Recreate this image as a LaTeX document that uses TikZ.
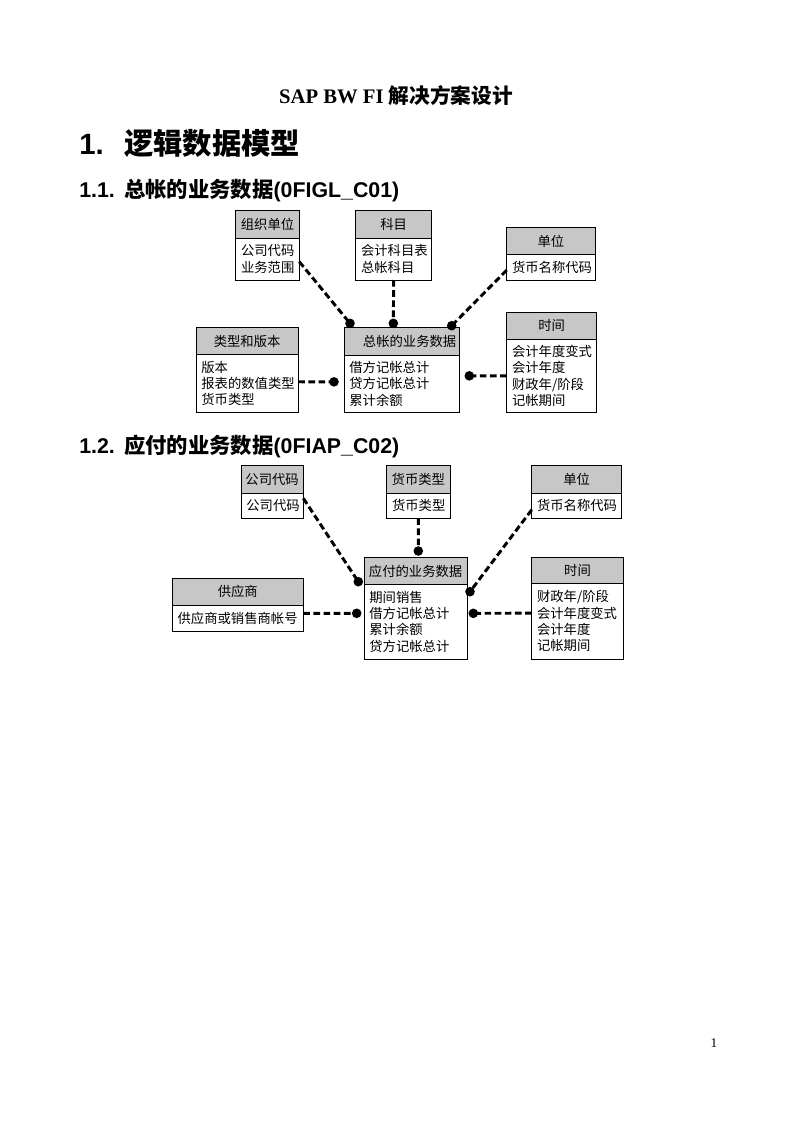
\documentclass[tikz,border=0pt]{standalone}
\usepackage{fontspec}
\setmainfont{Liberation Serif}
\newfontfamily\cjk{Noto Sans CJK SC}
\newfontfamily\hsans{Liberation Sans}
\usetikzlibrary{calc}
\definecolor{hdrgray}{gray}{0.78}
\tikzset{
  hdr/.style={draw, line width=0.7pt, fill=hdrgray, outer sep=0pt, inner sep=0pt,
    font=\cjk\fontsize{10}{12.2}\selectfont, align=center},
  bdy/.style={draw, line width=0.7pt, fill=white, outer sep=0pt, inner xsep=4pt, inner ysep=0pt,
    font=\cjk\fontsize{10}{12.2}\selectfont, align=left},
  conn/.style={line width=2.2pt, dash pattern=on 5pt off 2.6pt},
  dot/.style={fill=black},
}
% \erbox{name}{x}{y}{width}{header height}{body height}{title}{body}
\newcommand{\erbox}[8]{%
  \pgfmathsetmacro\erw{#4*0.75}%
  \pgfmathsetmacro\erhh{#5*0.75}%
  \pgfmathsetmacro\erhb{#6*0.75}%
  \pgfmathsetmacro\ertw{#4*0.75-8}%
  \node[hdr, minimum width=\erw pt, minimum height=\erhh pt, anchor=north west] (#1h) at (#2,#3) {#7};
  \node[bdy, minimum width=\erw pt, minimum height=\erhb pt, text width=\ertw pt, anchor=north west] (#1) at (#1h.south west) {#8};
}
\begin{document}
\begin{tikzpicture}[x=0.75pt,y=-0.75pt]
\useasboundingbox (0,0) rectangle (793,1122);

% title and headings
\node[inner sep=0pt] (title) at (396,96) {\fontsize{15.5}{18}\selectfont\bfseries SAP BW FI {\cjk 解决方案设计}};
\node[inner sep=0pt, anchor=west] (h1) at (79,143) {\fontsize{22}{26}\selectfont\bfseries\makebox[33.75pt][l]{\hsans 1.}{\cjk 逻辑数据模型}};
\node[inner sep=0pt, anchor=west] (h11) at (79,191) {\fontsize{16}{19}\selectfont\bfseries\makebox[33.75pt][l]{\hsans 1.1.}{\cjk 总帐的业务数据}{\hsans (0FIGL\_C01)}};
\node[inner sep=0pt, anchor=west] (h12) at (79,446) {\fontsize{16}{19}\selectfont\bfseries\makebox[33.75pt][l]{\hsans 1.2.}{\cjk 应付的业务数据}{\hsans (0FIAP\_C02)}};
\node[inner sep=0pt] (pg) at (714,1043) {\fontsize{10}{12}\selectfont 1};

% ---------- diagram 1 ----------
\erbox{org}{235.7}{210}{63.6}{28}{42}{组织单位}{公司代码\\业务范围}
\erbox{km}{355.7}{210}{76}{28}{42}{科目}{会计科目表\\总帐科目}
\erbox{dw}{506.7}{227.7}{88.3}{26.6}{25.7}{单位}{货币名称代码}
\erbox{lx}{196}{327.7}{102.3}{26.6}{58.4}{类型和版本}{版本\\报表的数值类型\\货币类型}
\erbox{gl}{344}{327.7}{115.3}{27.3}{57.7}{\hspace*{12pt}总帐的业务数据}{借方记帐总计\\贷方记帐总计\\累计余额}
\erbox{sj}{506.7}{312.3}{90}{26.7}{73.7}{时间}{会计年度变式\\会计年度\\财政年/阶段\\记帐期间}

\coordinate (d1) at ($(glh.north west)+(6,-4.4)$);
\coordinate (d2) at ($(glh.north west)+(49.3,-4.4)$);
\coordinate (d3) at ($(glh.north east)+(-7.6,-2)$);
\coordinate (d4) at ($(gl.west)+(-10,-2)$);
\coordinate (d5) at ($(gl.east)+(10,-8)$);

\draw[conn] ([yshift=-2pt]org.east) -- (d1);
\draw[conn] (km.south) -- (d2);
\draw[conn] ([yshift=-2.25pt]dw.west) -- (d3);
\draw[conn] ([yshift=1.3pt]lx.east) -- (d4);
\draw[conn] (sj.west) -- (d5);
\foreach \d in {d1,d2,d3,d4,d5} \fill[dot] (\d) circle (3.6pt);

% ---------- diagram 2 ----------
\erbox{gs}{241}{465}{62.3}{28.3}{25}{公司代码}{公司代码}
\erbox{hb}{386.7}{465}{63.3}{28.3}{25}{货币类型}{货币类型}
\erbox{dwb}{531.7}{465}{90}{28.3}{25}{单位}{货币名称代码}
\erbox{gys}{172.3}{578.3}{131}{26.7}{26.7}{供应商}{供应商或销售商帐号}
\erbox{yf}{364}{557.7}{103.3}{26.6}{74.7}{应付的业务数据}{期间销售\\借方记帐总计\\累计余额\\贷方记帐总计}
\erbox{sjb}{531.7}{557.7}{91.6}{25.6}{75.7}{时间}{财政年/阶段\\会计年度变式\\会计年度\\记帐期间}

\coordinate (e1) at ($(yfh.south west)+(-5.7,-2.6)$);
\coordinate (e2) at ($(yfh.north west)+(54.3,-6.7)$);
\coordinate (e3) at ($(yf.north east)+(2.7,7.4)$);
\coordinate (e4) at ($(yf.north west)+(-7.3,29)$);
\coordinate (e5) at ($(yf.north east)+(6,29)$);

\draw[conn] ([yshift=-3.75pt]gs.north east) -- (e1);
\draw[conn] (hb.south) -- (e2);
\draw[conn] ([yshift=-3pt]dwb.west) -- (e3);
\draw[conn] ([yshift=3.75pt]gys.east) -- (e4);
\draw[conn] ([yshift=6pt]sjb.west) -- (e5);
\foreach \d in {e1,e2,e3,e4,e5} \fill[dot] (\d) circle (3.6pt);
\end{tikzpicture}
\end{document}
